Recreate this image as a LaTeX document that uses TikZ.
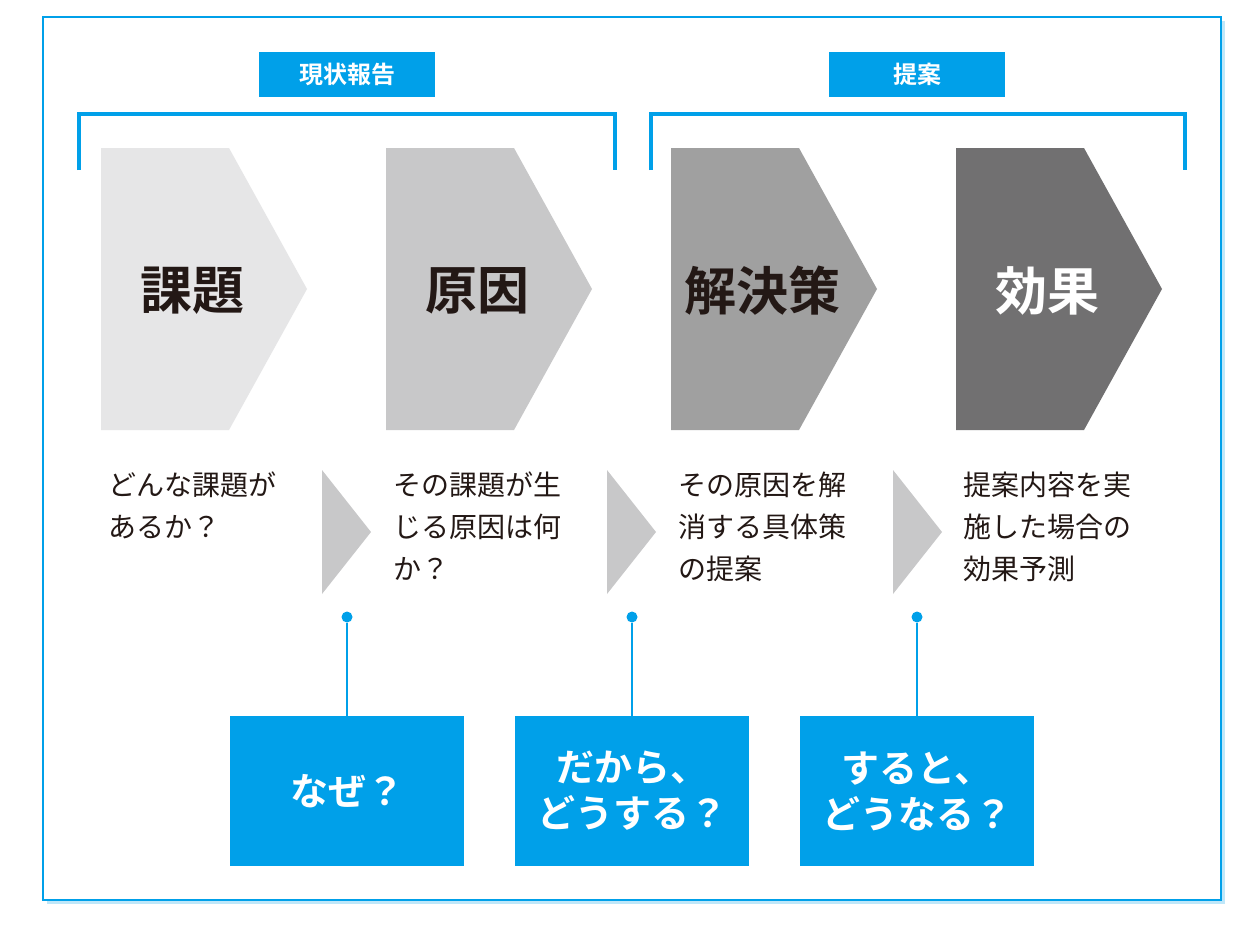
\documentclass[tikz,border=0pt]{standalone}
\usepackage{fontspec}
\setmainfont{Noto Sans CJK JP}
\newfontfamily\jpb{Noto Sans CJK JP Bold}
\definecolor{cblue}{RGB}{0,160,233}
\definecolor{g1}{RGB}{230,230,231}
\definecolor{g2}{RGB}{200,200,201}
\definecolor{g3}{RGB}{160,160,160}
\definecolor{g4}{RGB}{113,112,113}
\definecolor{ink}{RGB}{35,24,21}
\begin{document}
\begin{tikzpicture}[x=1pt,y=-1pt,
 lbl/.style={fill=cblue,minimum width=176pt,minimum height=45pt,text=white,font=\jpb\fontsize{24}{24}\selectfont,inner sep=0pt},
 ttl/.style={font=\jpb\fontsize{52}{52}\selectfont,inner sep=0pt},
 desc/.style={font=\fontsize{28}{42}\selectfont,align=left,anchor=north west,inner sep=0pt,text=ink},
 qbox/.style={fill=cblue,minimum width=234pt,minimum height=150pt,text=white,align=center,font=\jpb\fontsize{38}{46}\selectfont,inner sep=0pt},
 brk/.style={draw=cblue,line width=4pt},
 dot/.style={circle,fill=cblue,inner sep=0pt,minimum size=11pt}]
\useasboundingbox (0,0) rectangle (1255,929);
\fill[cblue!25] (47,21) rectangle (1225,904);
\draw[cblue,line width=2.5pt,fill=white] (43,17) rectangle (1221,900);
% brackets
\draw[brk] (79,170) -- (79,114) -- (615,114) -- (615,170);
\draw[brk] (651,170) -- (651,114) -- (1185,114) -- (1185,170);
\node[lbl] (l1) at (347,74.5) {現状報告};
\node[lbl] (l2) at (917,74.5) {提案};
% chevrons
\foreach \x/\c/\t/\tc/\n in {101/g1/課題/ink/a,386/g2/原因/ink/b,671/g3/解決策/ink/c,956/g4/効果/white/d}{
 \fill[\c] (\x,148) -- (\x+128,148) -- (\x+206,289) -- (\x+128,430) -- (\x,430) -- cycle;
 \node[ttl,text=\tc] (t\n) at (\x+91,291) {\t};
}
% small triangles
\foreach \x in {322,607,893}{
 \fill[g2] (\x,470) -- (\x+49,532) -- (\x,594) -- cycle;
}
\node[desc] (d1) at (108,472) {どんな課題が\\あるか？};
\node[desc] (d2) at (393,472) {その課題が生\\じる原因は何\\か？};
\node[desc] (d3) at (678,472) {その原因を解\\消する具体策\\の提案};
\node[desc] (d4) at (963,472) {提案内容を実\\施した場合の\\効果予測};
% question boxes
\node[qbox] (q1) at (347,791) {なぜ？};
\node[qbox] (q2) at (632,791) {だから、\\どうする？};
\node[qbox] (q3) at (917,791) {すると、\\どうなる？};
\node[dot] (p1) at (347,617) {};
\node[dot] (p2) at (632,617) {};
\node[dot] (p3) at (917,617) {};
\draw[cblue,line width=2pt] (p1) -- (q1.north);
\draw[cblue,line width=2pt] (p2) -- (q2.north);
\draw[cblue,line width=2pt] (p3) -- (q3.north);
\end{tikzpicture}
\end{document}
